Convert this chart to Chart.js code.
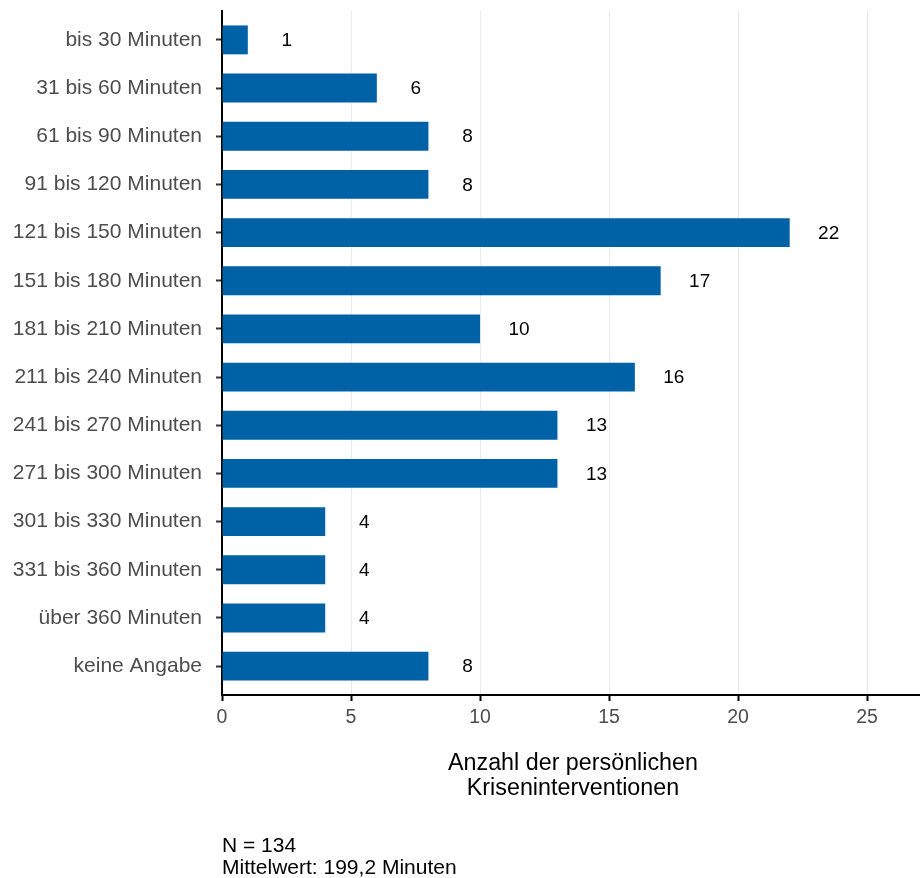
<!DOCTYPE html>
<html>
<head>
<meta charset="utf-8">
<script src="https://cdn.jsdelivr.net/npm/chart.js@4"></script>
<style>
  html, body { margin: 0; padding: 0; background: #ffffff; }
  #wrap { width: 920px; height: 878px; }
</style>
</head>
<body>
<div id="wrap"><canvas id="c" width="920" height="878"></canvas></div>
<script>
const categories = [
  "bis 30 Minuten", "31 bis 60 Minuten", "61 bis 90 Minuten", "91 bis 120 Minuten",
  "121 bis 150 Minuten", "151 bis 180 Minuten", "181 bis 210 Minuten", "211 bis 240 Minuten",
  "241 bis 270 Minuten", "271 bis 300 Minuten", "301 bis 330 Minuten", "331 bis 360 Minuten",
  "über 360 Minuten", "keine Angabe"
];
const counts = [1, 6, 8, 8, 22, 17, 10, 16, 13, 13, 4, 4, 4, 8];
const xTicks = [0, 5, 10, 15, 20, 25];
const axisTitle = ["Anzahl der persönlichen", "Kriseninterventionen"];
const captionLines = ["N = 134", "Mittelwert: 199,2 Minuten"];

const FONT = "'Liberation Sans', Arial, sans-serif";
const points = counts.map((v, i) => ({ x: v, y: i }));

const labelPlugin = {
  id: 'extras',
  afterDatasetsDraw(chart) {
    const ctx = chart.ctx;
    const meta = chart.getDatasetMeta(0);
    ctx.save();
    ctx.fillStyle = '#000000';
    ctx.font = "19px " + FONT;
    ctx.textAlign = 'center';
    ctx.textBaseline = 'middle';
    meta.data.forEach((bar, i) => {
      ctx.fillText(String(counts[i]), bar.x + 39, bar.y + 1);
    });
    ctx.restore();
  },
  afterDraw(chart) {
    const ctx = chart.ctx;
    const ca = chart.chartArea;
    ctx.save();
    ctx.fillStyle = '#000000';
    ctx.textBaseline = 'middle';
    ctx.font = "23.3px " + FONT;
    ctx.textAlign = 'center';
    const cx = (ca.left + ca.right) / 2 + 2;
    ctx.fillText(axisTitle[0], cx, 764);
    ctx.fillText(axisTitle[1], cx, 789);
    ctx.font = "21px " + FONT;
    ctx.textAlign = 'left';
    ctx.fillText(captionLines[0], ca.left, 846);
    ctx.fillText(captionLines[1], ca.left, 868);
    ctx.restore();
  }
};

new Chart(document.getElementById('c'), {
  type: 'bar',
  data: {
    datasets: [{
      data: points,
      backgroundColor: '#0062a6',
      borderWidth: 0,
      categoryPercentage: 0.6,
      barPercentage: 1.0
    }]
  },
  options: {
    indexAxis: 'y',
    responsive: false,
    animation: false,
    layout: { padding: { top: 11, right: 0, bottom: 0, left: 0 } },
    plugins: { legend: { display: false }, tooltip: { enabled: false } },
    scales: {
      y: {
        type: 'linear',
        reverse: true,
        offset: false,
        min: -0.6,
        max: categories.length - 1 + 0.6,
        afterBuildTicks: (s) => { s.ticks = categories.map((_, i) => ({ value: i })); },
        afterFit: (s) => { s.width = 222; s.paddingTop = 0; s.paddingBottom = 0; },
        ticks: {
          autoSkip: false,
          padding: 14,
          color: '#4d4d4d',
          font: { family: FONT, size: 21 },
          callback: (v) => categories[v]
        },
        grid: {
          offset: false,
          drawOnChartArea: false,
          drawTicks: true,
          tickLength: 6,
          tickColor: '#333333',
          tickWidth: 2
        },
        border: { display: true, color: '#000000', width: 2 }
      },
      x: {
        type: 'linear',
        min: 0,
        max: 27.05,
        afterBuildTicks: (s) => { s.ticks = xTicks.map(v => ({ value: v })); },
        afterFit: (s) => { s.height = 183; },
        ticks: {
          padding: 5,
          color: '#4d4d4d',
          font: { family: FONT, size: 19.5 }
        },
        grid: {
          drawOnChartArea: true,
          color: '#e8e8e8',
          lineWidth: 1,
          drawTicks: true,
          tickLength: 6,
          tickColor: '#000000',
          tickWidth: 2
        },
        border: { display: true, color: '#000000', width: 2 }
      }
    }
  },
  plugins: [labelPlugin]
});
</script>
</body>
</html>
